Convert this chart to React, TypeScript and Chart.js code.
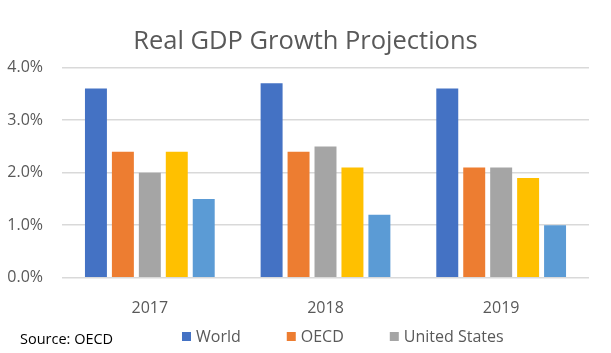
import React, { useEffect, useRef } from "react";
import { Chart, registerables } from "chart.js";

Chart.register(...registerables);

const categories = ["2017", "2018", "2019"];
const seriesNames = ["World", "OECD", "United States", "Euro Area", "Japan"];
const world = [3.6, 3.7, 3.6];
const oecd = [2.4, 2.4, 2.1];
const unitedStates = [2.0, 2.5, 2.1];
const euroArea = [2.4, 2.1, 1.9];
const japan = [1.5, 1.2, 1.0];
const seriesValues = [world, oecd, unitedStates, euroArea, japan];
const seriesColors = ["#4472C4", "#ED7D31", "#A5A5A5", "#FFC000", "#5B9BD5"];
const legendCount = 3;
const sourceText = "Source: OECD";
const titleText = "Real GDP Growth Projections";

const FONT = "'Open Sans', 'Noto Sans', sans-serif";

const bottomLegend = {
  id: "bottomLegend",
  afterDraw(chart: any) {
    const ctx = chart.ctx;
    ctx.save();
    ctx.textBaseline = "middle";
    ctx.textAlign = "left";
    ctx.fillStyle = "#000000";
    ctx.font = `14.5px ${FONT}`;
    ctx.fillText(sourceText, 20, 340);
    ctx.font = `16px ${FONT}`;
    let x = 182;
    const y = 337;
    for (let i = 0; i < legendCount; i++) {
      const ds = chart.data.datasets[i];
      ctx.fillStyle = ds.backgroundColor;
      ctx.fillRect(x, y - 5, 9, 9);
      ctx.fillStyle = "#595959";
      ctx.fillText(ds.label, x + 14, y);
      x += 14 + ctx.measureText(ds.label).width + 46;
    }
    ctx.restore();
  },
};

export default function App() {
  const ref = useRef<HTMLCanvasElement | null>(null);
  useEffect(() => {
    if (!ref.current) return;
    const chart = new Chart(ref.current, {
      type: "bar",
      data: {
        labels: categories,
        datasets: seriesNames.map((name, i) => ({
          label: name,
          data: seriesValues[i],
          backgroundColor: seriesColors[i],
          borderWidth: 0,
          categoryPercentage: 0.767,
          barPercentage: 0.815,
        })),
      },
      options: {
        animation: false,
        responsive: false,
        maintainAspectRatio: false,
        layout: { padding: { left: 0, right: 0, top: 26, bottom: 14 } },
        plugins: {
          legend: { display: false },
          tooltip: { enabled: false },
          title: {
            display: true,
            text: titleText,
            color: "#595959",
            font: { family: FONT, size: 25.5, weight: "normal" },
            padding: { top: 0, bottom: 11 },
          },
        },
        scales: {
          x: {
            grid: { display: false, drawTicks: false },
            border: { display: false },
            ticks: {
              color: "#595959",
              font: { family: FONT, size: 16 },
              padding: 21,
            },
          },
          y: {
            min: 0,
            max: 4,
            afterFit(scale: any) {
              scale.width = 62;
            },
            grid: { color: "#d9d9d9", lineWidth: 1.5, drawTicks: false },
            border: { display: false },
            ticks: {
              stepSize: 1,
              color: "#595959",
              font: { family: FONT, size: 16 },
              padding: 19,
              callback: (v: any) => Number(v).toFixed(1) + "%",
            },
          },
          yRight: {
            position: "right",
            min: 0,
            max: 4,
            afterFit(scale: any) {
              scale.width = 22;
            },
            grid: { display: false, drawTicks: false },
            border: { display: false },
            ticks: { display: false },
          },
        },
      },
      plugins: [bottomLegend],
    });
    return () => chart.destroy();
  }, []);
  return (
    <div style={{ position: "absolute", left: 0, top: 0, width: 611, height: 353, background: "#ffffff" }}>
      <canvas ref={ref} width={611} height={353} style={{ display: "block" }} />
    </div>
  );
}
